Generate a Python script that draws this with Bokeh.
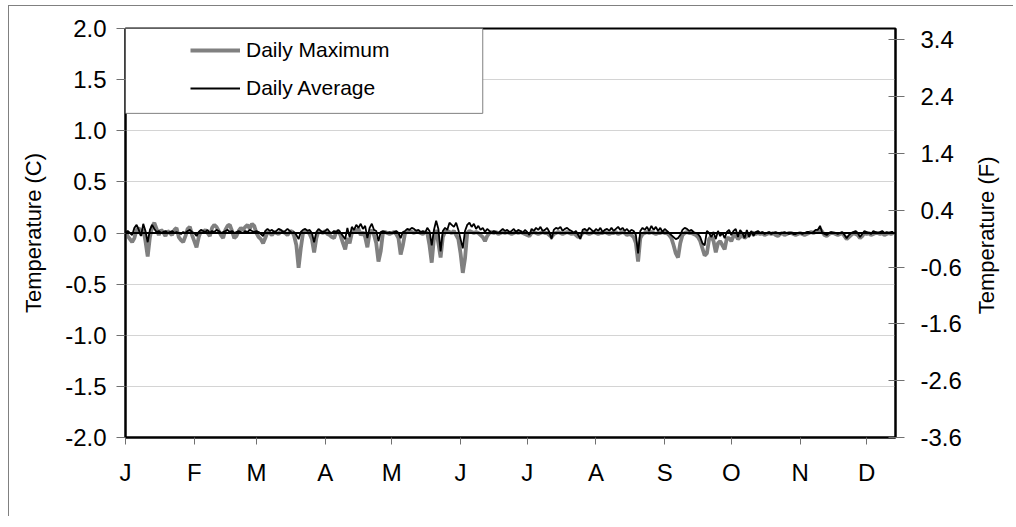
import math
from bokeh.plotting import figure
from bokeh.models import (Range1d, LinearAxis, FixedTicker, PrintfTickFormatter,
                          Span, BoxAnnotation, Legend, LegendItem)
from bokeh.embed import file_html
from bokeh.resources import INLINE

# ---------------- data ----------------
month_labels = ["J", "F", "M", "A", "M", "J", "J", "A", "S", "O", "N", "D"]
month_start_day = [0, 31, 59, 90, 120, 151, 181, 212, 243, 273, 304, 334]

c_ticks = [-2.0, -1.5, -1.0, -0.5, 0.0, 0.5, 1.0, 1.5, 2.0]
f_ticks = [-3.6, -2.6, -1.6, -0.6, 0.4, 1.4, 2.4, 3.4]

daily_max = [
    0.02, -0.03, -0.06, -0.09, -0.05, 0.03, 0.05, -0.02, 0.04, -0.08,
    -0.23, -0.04, 0.06, 0.10, 0.04, -0.02, 0.03, 0.01, -0.03, 0.02,
    0.00, -0.02, 0.03, 0.05, -0.04, -0.07, -0.09, -0.03, 0.04, 0.06,
    -0.02, -0.08, -0.14, -0.04, 0.02, 0.01, 0.03, 0.00, -0.03, 0.05,
    0.08, 0.06, 0.02, -0.02, -0.05, 0.03, 0.07, 0.08, 0.02, -0.05,
    -0.03, 0.02, 0.05, 0.03, 0.06, 0.08, 0.04, 0.09, 0.07, 0.00,
    -0.04, -0.06, -0.10, -0.05, 0.01, 0.00, -0.02, 0.01, 0.00, -0.01,
    0.02, 0.01, 0.00, -0.02, 0.01, 0.02, -0.03, -0.12, -0.34, -0.15,
    0.00, 0.01, 0.02, -0.01, -0.06, -0.19, -0.05, 0.02, 0.01, 0.00,
    0.02, -0.01, -0.02, -0.04, -0.05, 0.01, 0.02, -0.03, -0.10, -0.16,
    -0.05, -0.10, 0.00, 0.03, 0.02, 0.04, -0.02, 0.01, -0.04, -0.14,
    0.00, 0.03, -0.02, -0.10, -0.28, -0.18, 0.00, 0.01, 0.00, -0.01,
    0.00, 0.01, -0.01, -0.05, -0.21, -0.12, 0.00, 0.01, 0.02, 0.01,
    0.00, 0.02, 0.01, 0.00, -0.01, 0.01, 0.00, -0.12, -0.29, -0.05,
    0.03, -0.10, -0.24, -0.04, 0.01, 0.02, 0.01, 0.00, 0.02, -0.02,
    -0.06, -0.20, -0.39, -0.25, 0.00, 0.02, 0.01, 0.00, 0.01, 0.00,
    -0.02, -0.04, -0.08, -0.03, 0.00, 0.01, 0.00, 0.01, -0.01, 0.00,
    0.01, 0.00, 0.01, 0.00, -0.01, 0.00, 0.01, 0.00, 0.01, 0.00,
    -0.01, -0.02, -0.03, 0.00, 0.01, 0.00, -0.01, 0.00, 0.01, 0.00,
    0.00, -0.02, -0.04, -0.01, 0.00, 0.01, 0.00, -0.01, 0.00, 0.01,
    0.00, -0.01, 0.00, -0.02, -0.04, -0.03, 0.00, 0.01, 0.00, -0.01,
    0.00, 0.01, 0.00, -0.01, 0.00, 0.00, 0.01, 0.00, -0.01, 0.00,
    0.00, 0.01, -0.01, 0.00, 0.01, 0.00, -0.02, -0.01, -0.02, -0.04,
    -0.10, -0.28, -0.05, -0.01, 0.00, 0.01, 0.00, 0.01, 0.00, -0.01,
    0.00, 0.00, 0.01, 0.00, 0.00, -0.02, -0.05, -0.12, -0.20, -0.24,
    -0.10, -0.02, 0.00, 0.01, 0.00, 0.00, -0.01, -0.02, -0.04, -0.08,
    -0.15, -0.22, -0.20, -0.06, -0.03, -0.08, -0.19, -0.10, -0.08, -0.12,
    -0.16, -0.05, -0.05, -0.08, -0.03, -0.02, -0.06, -0.04, -0.01, -0.05,
    -0.03, -0.02, 0.00, 0.00, -0.01, 0.00, -0.01, 0.00, -0.02, -0.01,
    0.00, -0.01, 0.00, -0.02, -0.03, -0.01, 0.00, -0.02, -0.01, 0.00,
    0.00, -0.01, -0.02, -0.01, 0.00, -0.01, -0.02, -0.01, 0.00, 0.01,
    0.00, 0.01, 0.02, 0.04, 0.01, -0.02, -0.03, -0.01, 0.00, 0.00,
    -0.01, -0.02, -0.01, 0.00, -0.03, -0.06, -0.04, -0.02, 0.00, -0.01,
    -0.02, -0.05, -0.03, 0.00, -0.01, 0.00, -0.02, -0.01, 0.00, 0.00,
    -0.01, 0.00, -0.02, -0.01, 0.00, -0.01, 0.00,
]

daily_avg = [
    0.01, 0.02, 0.00, -0.02, 0.05, 0.08, 0.03, -0.03, 0.09, 0.02,
    -0.09, 0.03, 0.08, 0.04, 0.01, 0.02, 0.00, 0.01, 0.02, 0.00,
    0.01, 0.02, 0.00, 0.01, 0.00, -0.01, 0.01, 0.00, 0.02, 0.03,
    0.01, 0.00, -0.03, 0.01, 0.03, 0.02, 0.01, 0.03, 0.00, 0.02,
    0.01, 0.03, 0.02, 0.00, 0.01, 0.02, 0.03, 0.01, 0.02, 0.00,
    0.01, 0.02, 0.01, 0.00, 0.02, 0.01, 0.03, 0.02, 0.01, 0.02,
    0.01, -0.01, -0.03, 0.02, 0.04, 0.02, 0.03, 0.01, 0.02, 0.04,
    0.03, 0.01, 0.02, 0.04, 0.02, 0.00, 0.01, -0.02, -0.06, 0.01,
    0.03, 0.04, 0.02, 0.03, 0.00, -0.09, 0.01, 0.04, 0.02, 0.01,
    0.02, 0.04, 0.01, 0.00, 0.02, 0.01, 0.03, 0.00, -0.03, -0.06,
    0.05, -0.04, 0.06, 0.03, 0.08, 0.05, 0.09, 0.04, 0.07, -0.05,
    0.05, 0.09, 0.03, 0.02, -0.08, 0.01, 0.02, 0.01, 0.00, 0.01,
    0.00, 0.01, 0.02, 0.00, -0.05, 0.01, 0.02, 0.04, 0.03, 0.05,
    0.04, 0.02, 0.03, 0.01, 0.02, 0.00, 0.05, 0.02, -0.12, 0.03,
    0.12, 0.04, -0.18, 0.02, 0.05, 0.03, 0.10, 0.08, 0.06, 0.10,
    0.03, -0.06, -0.15, 0.02, 0.08, 0.10, 0.06, 0.09, 0.04, 0.07,
    0.03, 0.05, 0.01, 0.04, 0.02, 0.00, 0.02, 0.01, 0.00, 0.02,
    0.04, 0.02, 0.03, 0.01, 0.02, 0.04, 0.01, 0.03, 0.02, 0.00,
    0.03, 0.01, -0.02, 0.04, 0.02, 0.05, 0.03, 0.06, 0.02, 0.03,
    0.05, 0.01, -0.06, 0.03, 0.05, 0.04, 0.06, 0.02, 0.04, 0.05,
    0.03, 0.02, 0.00, 0.02, -0.02, -0.06, 0.03, 0.04, 0.02, 0.05,
    0.03, 0.01, 0.04, 0.02, 0.05, 0.01, 0.03, 0.04, 0.02, 0.05,
    0.02, 0.04, 0.06, 0.03, 0.05, 0.02, 0.04, 0.01, 0.03, 0.02,
    -0.02, -0.20, 0.02, 0.05, 0.03, 0.06, 0.02, 0.07, 0.03, 0.06,
    0.02, 0.05, 0.01, 0.04, 0.02, 0.00, -0.02, -0.04, -0.06, -0.05,
    -0.02, 0.03, 0.05, 0.04, 0.02, 0.03, 0.01, 0.00, -0.01, -0.04,
    -0.10, -0.12, 0.02, 0.00, -0.04, 0.01, -0.06, 0.02, -0.03, 0.00,
    -0.05, 0.01, 0.03, -0.02, 0.02, 0.04, -0.04, 0.03, 0.00, -0.05,
    0.03, -0.04, 0.02, -0.03, 0.01, 0.02, 0.00, 0.01, -0.01, 0.00,
    0.01, -0.01, 0.00, 0.01, 0.00, -0.01, 0.00, 0.01, 0.00, -0.01,
    0.00, -0.01, -0.01, 0.00, 0.00, -0.01, 0.00, 0.01, 0.01, 0.00,
    0.01, 0.03, 0.03, 0.07, 0.00, -0.01, -0.02, 0.00, 0.01, 0.00,
    0.00, -0.01, 0.00, 0.01, -0.02, -0.05, -0.02, 0.00, 0.01, 0.02,
    0.00, -0.04, -0.01, 0.02, 0.01, 0.00, -0.01, 0.02, 0.01, 0.00,
    0.01, 0.02, 0.00, 0.01, 0.00, 0.01, 0.01,
]

day = list(range(len(daily_max)))

# ---------------- figure ----------------
FONT = "Liberation Sans"
TICK_FS = "24px"
TITLE_FS = "22px"
X_END = 347
F_TITLE_ANCHOR = -1.43   # bottom end of the rotated right-hand title (F units)

p = figure(width=1005, height=511, output_backend="svg", toolbar_location=None,
           x_range=Range1d(0, X_END), y_range=Range1d(-2.0, 2.0),
           min_border_left=116, min_border_right=118,
           min_border_top=22, min_border_bottom=80)
p.styles = {"margin-left": "8px", "margin-top": "5px",
            "border-left": "1px solid #808080", "border-top": "1px solid #808080"}
p.outline_line_color = "black"
p.outline_line_width = 2
p.background_fill_color = "white"
p.border_fill_color = "white"

p.extra_y_ranges = {"F": Range1d(-3.6, 3.6)}

# grid
p.xgrid.visible = False
p.ygrid.ticker = FixedTicker(ticks=c_ticks)
p.ygrid.grid_line_color = "#d4d4d4"
p.ygrid.grid_line_width = 1

def style_axis(ax):
    ax.axis_line_color = "black"
    ax.axis_line_width = 2
    ax.major_tick_line_color = "#707070"
    ax.major_tick_line_width = 1
    ax.minor_tick_line_color = None
    ax.major_label_text_font = FONT
    ax.major_label_text_font_size = TICK_FS
    ax.major_label_text_color = "black"
    ax.axis_label_text_font = FONT
    ax.axis_label_text_font_size = TITLE_FS
    ax.axis_label_text_font_style = "normal"
    ax.axis_label_text_color = "black"

# bottom axis
xa = p.xaxis[0]
style_axis(xa)
xa.ticker = FixedTicker(ticks=month_start_day)
xa.major_label_overrides = {d: m for d, m in zip(month_start_day, month_labels)}
xa.major_tick_in = 0
xa.major_tick_out = 7
xa.major_label_standoff = 14

# left axis
ya = p.yaxis[0]
style_axis(ya)
ya.ticker = FixedTicker(ticks=c_ticks)
ya.formatter = PrintfTickFormatter(format="%.1f")
ya.major_tick_in = 0
ya.major_tick_out = 9
ya.major_label_standoff = 10
ya.axis_label = "Temperature (C)"
ya.axis_label_standoff = 16

# right axis (Fahrenheit difference)
ra = LinearAxis(y_range_name="F", ticker=FixedTicker(ticks=f_ticks),
                formatter=PrintfTickFormatter(format="%.1f"))
style_axis(ra)
ra.major_tick_in = 7
ra.major_tick_out = 9
ra.major_label_standoff = 16
p.add_layout(ra, "right")

# right axis title, reading bottom-to-top like the left one
rt = LinearAxis(y_range_name="F", ticker=FixedTicker(ticks=[F_TITLE_ANCHOR]),
                major_label_overrides={F_TITLE_ANCHOR: "Temperature (F)"})
rt.axis_line_color = None
rt.major_tick_line_color = None
rt.minor_tick_line_color = None
rt.major_tick_in = 0
rt.major_tick_out = 0
rt.major_label_orientation = math.pi / 2
rt.major_label_standoff = 22
rt.major_label_text_font = FONT
rt.major_label_text_font_size = TITLE_FS
rt.major_label_text_color = "black"
p.add_layout(rt, "right")

# series
r_max = p.line(day, daily_max, line_color="#808080", line_width=3.8)
r_avg = p.line(day, daily_avg, line_color="black", line_width=1.8)

p.add_layout(Span(location=0, dimension="width", line_color="black", line_width=2.2))

# legend box
box = BoxAnnotation(right=161, bottom=1.17, fill_color="white", fill_alpha=1.0,
                    line_color="#808080", line_width=1, line_alpha=1.0)
p.add_layout(box)

legend = Legend(items=[LegendItem(label="Daily Maximum", renderers=[r_max]),
                       LegendItem(label="Daily Average", renderers=[r_avg])],
                location=(65, 337), padding=0, margin=0, spacing=14,
                glyph_width=50, glyph_height=24, label_height=24,
                label_standoff=6,
                label_text_font=FONT, label_text_font_size="21px",
                label_text_color="black",
                border_line_color=None, background_fill_alpha=0.0)
p.add_layout(legend)

open("out.html", "w").write(file_html(p, INLINE))
